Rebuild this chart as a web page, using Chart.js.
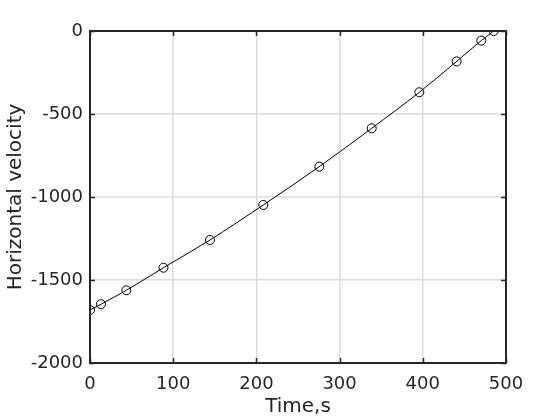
<!DOCTYPE html>
<html><head><meta charset="utf-8">
<script src="https://cdn.jsdelivr.net/npm/chart.js@4"></script>
<style>html,body{margin:0;padding:0;background:#fff}#w{width:560px;height:420px}</style>
</head><body><div id="w"><canvas id="c" width="560" height="420"></canvas></div>
<script>
const timeS = [0, 13.2, 43.7, 88.3, 144.2, 208.3, 275.6, 338.6, 395.8, 440.7, 470.3, 485.2];
const velocity = [-1681, -1646, -1562, -1426, -1259, -1048, -817, -586, -369, -183, -58, 0];
const xTicks = [0, 100, 200, 300, 400, 500];
const yTicks = [-2000, -1500, -1000, -500, 0];
const xLabel = 'Time,s';
const yLabel = 'Horizontal velocity';

const pts = timeS.map((t, i) => ({x: t, y: velocity[i]}));
const FONT = 'DejaVu Sans';
const TXT = '#262626';

const boxPlugin = {
  id: 'box',
  afterDraw(chart) {
    const {ctx, chartArea: a, scales: {x, y}} = chart;
    ctx.save();
    ctx.strokeStyle = '#262626';
    ctx.lineWidth = 2;
    ctx.strokeRect(a.left, a.top, a.right - a.left, a.bottom - a.top);
    ctx.lineWidth = 1.5;
    ctx.beginPath();
    const L = 5;
    xTicks.forEach(v => {
      const px = Math.round(x.getPixelForValue(v)) + 0.5;
      ctx.moveTo(px, a.bottom); ctx.lineTo(px, a.bottom - L);
      ctx.moveTo(px, a.top); ctx.lineTo(px, a.top + L);
    });
    yTicks.forEach(v => {
      const py = Math.round(y.getPixelForValue(v)) + 0.5;
      ctx.moveTo(a.left, py); ctx.lineTo(a.left + L, py);
      ctx.moveTo(a.right, py); ctx.lineTo(a.right - L, py);
    });
    ctx.stroke();
    ctx.restore();
  }
};

new Chart(document.getElementById('c'), {
  type: 'scatter',
  data: {
    datasets: [
      {
        type: 'line',
        data: pts,
        borderColor: '#000',
        borderWidth: 1,
        pointRadius: 4.5,
        pointStyle: 'circle',
        pointBackgroundColor: 'rgba(0,0,0,0)',
        pointBorderColor: '#000',
        pointBorderWidth: 1,
        tension: 0.3,
        cubicInterpolationMode: 'monotone',
        fill: false
      }
    ]
  },
  options: {
    responsive: false,
    animation: false,
    devicePixelRatio: 1,
    plugins: { legend: {display: false}, tooltip: {enabled: false} },
    layout: { padding: {left: 0, top: 31, right: 54, bottom: 0} },
    scales: {
      x: {
        type: 'linear', min: 0, max: 500,
        afterBuildTicks: s => { s.ticks = xTicks.map(v => ({value: v})); },
        afterFit: s => { s.height = 57; },
        grid: { color: '#dcdcdc', lineWidth: 1.5, drawTicks: false },
        border: { display: false },
        ticks: { font: {family: FONT, size: 18}, color: TXT, padding: 11, maxRotation: 0, callback: v => String(v) },
        title: { display: true, text: xLabel, font: {family: FONT, size: 20}, color: TXT, padding: {top: 0, bottom: 1} }
      },
      y: {
        type: 'linear', min: -2000, max: 0,
        afterBuildTicks: s => { s.ticks = yTicks.map(v => ({value: v})); },
        afterFit: s => { s.width = 90; },
        grid: { color: '#dcdcdc', lineWidth: 1.5, drawTicks: false },
        border: { display: false },
        ticks: { font: {family: FONT, size: 18}, color: TXT, padding: 7, callback: v => String(v) },
        title: { display: true, text: yLabel, font: {family: FONT, size: 20}, color: TXT, padding: {top: 4, bottom: 0} }
      }
    }
  },
  plugins: [boxPlugin]
});
</script></body></html>
